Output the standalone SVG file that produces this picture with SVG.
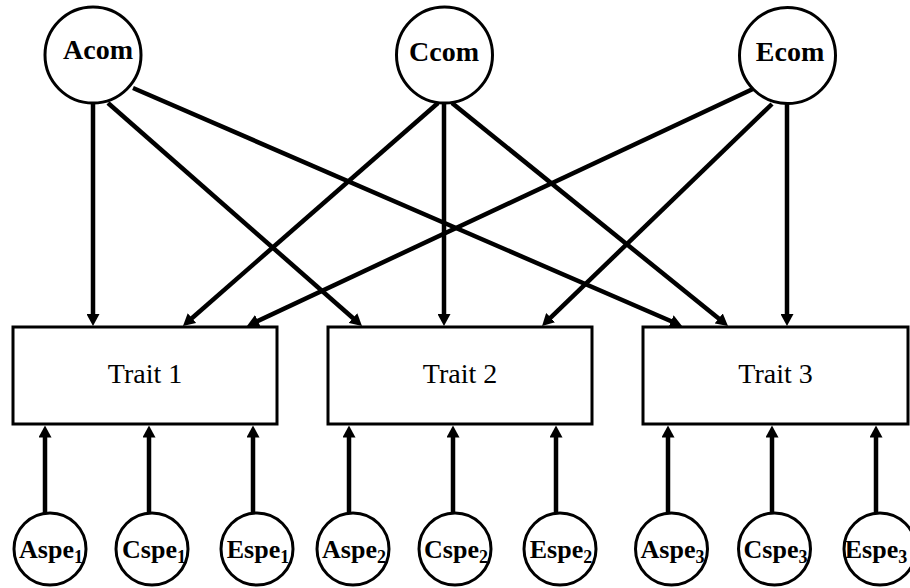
<svg xmlns="http://www.w3.org/2000/svg" width="910" height="588" viewBox="0 0 910 588">
<style>
.node{fill:#fff;stroke:#000;stroke-width:3}
.lat{font-family:"Liberation Serif",serif;font-weight:bold;font-size:28px;text-anchor:middle;fill:#000}
.spe{font-family:"Liberation Serif",serif;font-weight:bold;font-size:26px;text-anchor:middle;fill:#000}
.sub{font-size:18px}
.trait{font-family:"Liberation Serif",serif;font-size:28px;text-anchor:middle;fill:#000}
.edge{stroke:#000;stroke-width:4.5;fill:none;marker-end:url(#ah)}
</style>
<defs>
<marker id="ah" markerUnits="userSpaceOnUse" markerWidth="13" markerHeight="13" refX="4" refY="6.5" orient="auto">
<path d="M0,0 L12,6.5 L0,13 z" fill="#000"/>
</marker>
</defs>
<rect width="910" height="588" fill="#fff"/>
<g id="connectors">
<line class="edge" x1="93" y1="103" x2="93" y2="318"/>
<line class="edge" x1="108" y1="103" x2="356" y2="320.7"/>
<line class="edge" x1="133" y1="88" x2="674.7" y2="322.8"/>
<line class="edge" x1="438" y1="103" x2="189" y2="320.7"/>
<line class="edge" x1="444" y1="103" x2="444" y2="318"/>
<line class="edge" x1="452" y1="103" x2="721.8" y2="321"/>
<line class="edge" x1="755" y1="88" x2="254.2" y2="322.6"/>
<line class="edge" x1="772" y1="104" x2="547.8" y2="320.4"/>
<line class="edge" x1="787" y1="104" x2="787" y2="318"/>
<line class="edge" x1="45" y1="513" x2="45" y2="433.5"/>
<line class="edge" x1="149" y1="513" x2="149" y2="433.5"/>
<line class="edge" x1="253" y1="513" x2="253" y2="433.5"/>
<line class="edge" x1="349" y1="513" x2="349" y2="433.5"/>
<line class="edge" x1="453" y1="513" x2="453" y2="433.5"/>
<line class="edge" x1="556" y1="513" x2="556" y2="433.5"/>
<line class="edge" x1="668" y1="513" x2="668" y2="433.5"/>
<line class="edge" x1="772" y1="513" x2="772" y2="433.5"/>
<line class="edge" x1="876" y1="513" x2="876" y2="433.5"/>
</g>
<g id="Acom"><circle class="node" cx="93" cy="55" r="48"/><text class="lat" x="98" y="59">Acom</text></g>
<g id="Ccom"><circle class="node" cx="444.5" cy="55" r="48"/><text class="lat" x="444" y="61">Ccom</text></g>
<g id="Ecom"><circle class="node" cx="787.5" cy="55.5" r="48"/><text class="lat" x="790" y="61">Ecom</text></g>
<g id="Trait1"><rect class="node" x="13" y="327" width="264" height="97"/><text class="trait" x="145" y="383">Trait 1</text></g>
<g id="Trait2"><rect class="node" x="328" y="327" width="264" height="97"/><text class="trait" x="460" y="383">Trait 2</text></g>
<g id="Trait3"><rect class="node" x="643" y="327" width="265" height="97"/><text class="trait" x="775.5" y="383">Trait 3</text></g>
<g id="Aspe1"><circle class="node" cx="50" cy="549" r="36"/><text class="spe" x="51" y="558">Aspe<tspan class="sub" dy="5">1</tspan></text></g>
<g id="Cspe1"><circle class="node" cx="152" cy="549" r="36"/><text class="spe" x="154" y="558">Cspe<tspan class="sub" dy="5">1</tspan></text></g>
<g id="Espe1"><circle class="node" cx="257" cy="549" r="36"/><text class="spe" x="258" y="558">Espe<tspan class="sub" dy="5">1</tspan></text></g>
<g id="Aspe2"><circle class="node" cx="353" cy="549" r="36"/><text class="spe" x="354" y="558">Aspe<tspan class="sub" dy="5">2</tspan></text></g>
<g id="Cspe2"><circle class="node" cx="455" cy="549" r="36"/><text class="spe" x="456" y="558">Cspe<tspan class="sub" dy="5">2</tspan></text></g>
<g id="Espe2"><circle class="node" cx="560" cy="549" r="36"/><text class="spe" x="561" y="558">Espe<tspan class="sub" dy="5">2</tspan></text></g>
<g id="Aspe3"><circle class="node" cx="671.5" cy="549" r="36"/><text class="spe" x="672.5" y="558">Aspe<tspan class="sub" dy="5">3</tspan></text></g>
<g id="Cspe3"><circle class="node" cx="774.5" cy="549" r="36"/><text class="spe" x="775.5" y="558">Cspe<tspan class="sub" dy="5">3</tspan></text></g>
<g id="Espe3"><circle class="node" cx="880" cy="549" r="36"/><text class="spe" x="876" y="558">Espe<tspan class="sub" dy="5">3</tspan></text></g>
</svg>
